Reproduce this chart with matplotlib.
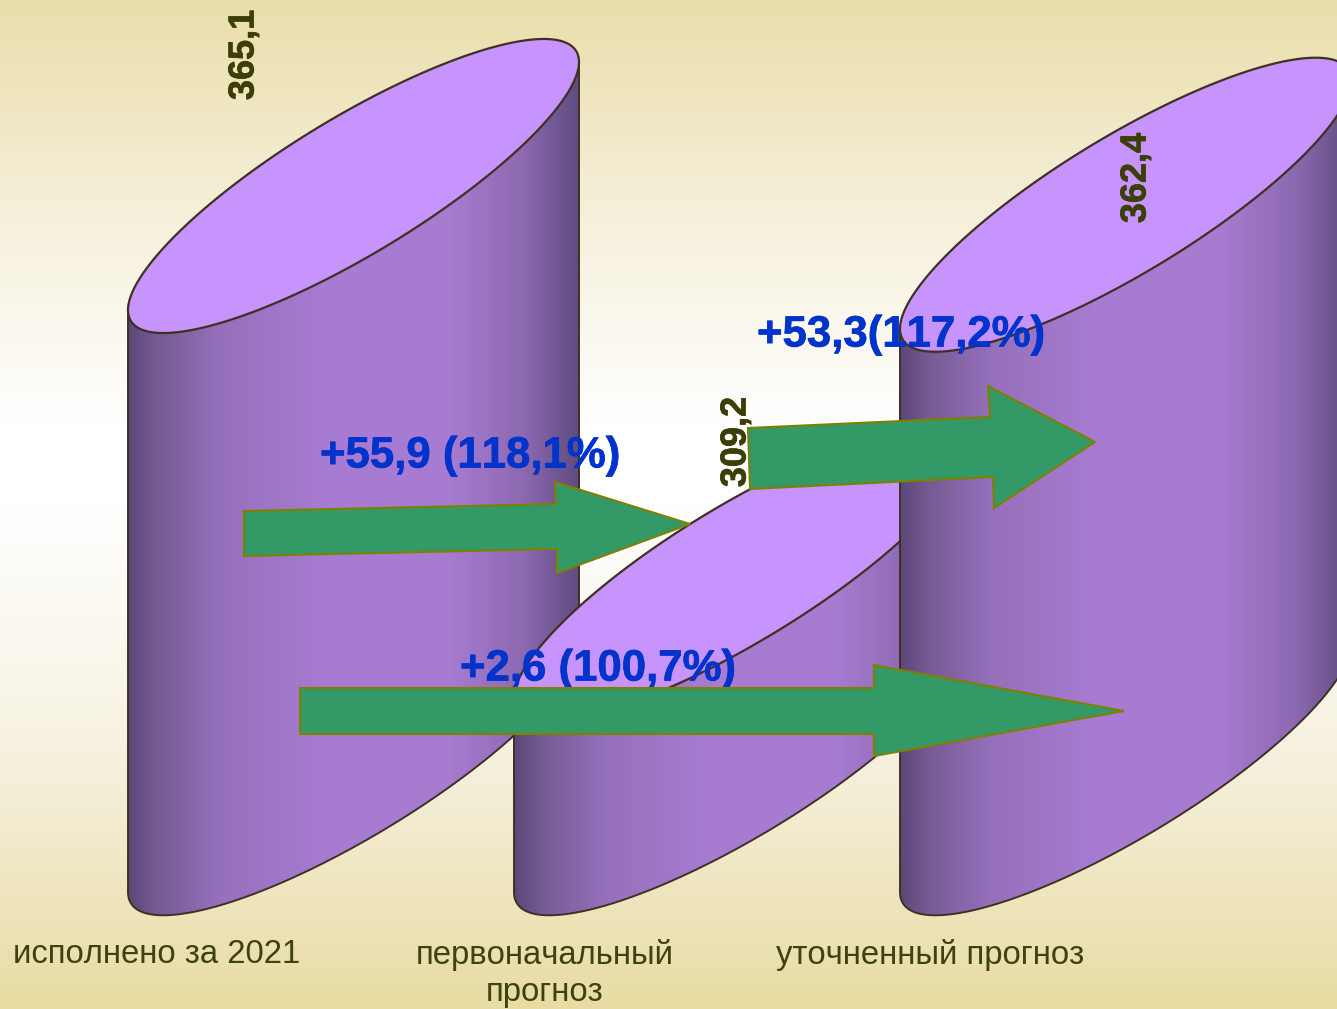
import numpy as np
import matplotlib
matplotlib.use('Agg')
import matplotlib.pyplot as plt
import matplotlib.patheffects as pe
from matplotlib.colors import LinearSegmentedColormap
from matplotlib.patches import Polygon, PathPatch
from matplotlib.path import Path

plt.rcParams['font.family'] = ['Liberation Sans', 'DejaVu Sans']
plt.rcParams['text.kerning_factor'] = 6

categories = ['исполнено за 2021', 'первоначальный\nпрогноз', 'уточненный прогноз']
values = [365.1, 309.2, 362.4]
base_value = 281.2
notes = ['+55,9 (118,1%)', '+53,3(117,2%)', '+2,6 (100,7%)']

W, H = 1337, 1009
PX = 6.94   # pixels per one unit of value
TOP_VALUE = 365.1 + 186 / PX

# cylinder shape in pixels
first_left = 128
step = 386
half_w = 225.5
tilt = 124
thick = 79


def yv(y_pix):
    # picture row -> value axis
    return TOP_VALUE - np.asarray(y_pix, dtype=float) / PX


fig = plt.figure(figsize=(W / 100, H / 100), dpi=100)
ax = fig.add_axes([0, 0, 1, 1])
ax.set_axis_off()

bg = LinearSegmentedColormap.from_list('bg', [(0, '#E9DEAB'), (0.2, '#F5EFD8'), (0.42, '#FFFFFF'),
                                              (0.5, '#FFFFFF'), (0.75, '#F6F1DF'), (1, '#E8DCA3')])
ax.imshow(np.linspace(0, 1, 500).reshape(-1, 1), cmap=bg, aspect='auto', vmin=0, vmax=1,
          extent=(0, W, yv(H), yv(0)), zorder=0)

side = LinearSegmentedColormap.from_list('side', [(0, '#5B4878'), (0.06, '#755A93'), (0.2, '#9570BA'),
                                                  (0.45, '#A87CD3'), (0.72, '#A67BD0'), (0.88, '#8C69B0'),
                                                  (1, '#604C80')])
t = np.linspace(0, 2 * np.pi, 400)
lower = np.linspace(np.pi, 0, 200)
grad = np.linspace(0, 1, 256).reshape(1, -1)
edge = '#3F3024'

for i, v in enumerate(values):
    left = first_left + i * step
    cx = left + half_w
    z = 2 + i

    # side wall: down the left, along lower half of bottom ellipse, up the right
    bx = cx + half_w * np.cos(lower)
    by = base_value + (tilt * np.cos(lower) - thick * np.sin(lower)) / PX
    sx = np.concatenate([[left], bx, [left + 2 * half_w]])
    sy = np.concatenate([[v - tilt / PX], by, [v + tilt / PX]])
    wall = Path(np.column_stack([sx, sy]))
    im = ax.imshow(grad, cmap=side, aspect='auto', extent=(left, left + 2 * half_w, base_value - 30, v + 30),
                   zorder=z)
    clip = PathPatch(wall, transform=ax.transData, facecolor='none', edgecolor='none')
    ax.add_patch(clip)
    im.set_clip_path(clip)
    ax.plot(sx, sy, color=edge, lw=1.4, zorder=z + 0.1)

    # top ellipse
    ex = cx + half_w * np.cos(t)
    ey = v + (tilt * np.cos(t) + thick * np.sin(t)) / PX
    ax.fill(ex, ey, facecolor='#C793FC', edgecolor=edge, lw=1.6, zorder=z + 0.2)

# value labels
label_x = [244, 736, 1136]
label_y = [55, 442, 178]
for v, lx, ly in zip(values, label_x, label_y):
    ax.text(lx, yv(ly), f'{v:.1f}'.replace('.', ','), rotation=90, ha='center', va='center',
            fontsize=26, fontweight='bold', color='#3B3F06', zorder=6,
            path_effects=[pe.withStroke(linewidth=0.5, foreground='#3B3F06')])

# category labels
cat_x = [157, 545, 930]
for c, cxp in zip(categories, cat_x):
    ax.text(cxp, yv(939), c, ha='center', va='top', fontsize=23.7, color='#3E4210',
            linespacing=1.27, zorder=6)

# blue notes
note_x = [320, 757, 460]
note_y = [456, 335, 669]
for n, nx, ny in zip(notes, note_x, note_y):
    ax.text(nx, yv(ny), n, ha='left', va='center', fontsize=31.5, fontweight='bold',
            color='#0033CC', zorder=6,
            path_effects=[pe.withStroke(linewidth=0.5, foreground='#0033CC')])

# green arrows
arrows = [
    [(244, 511), (556, 504), (555, 482), (690, 524), (557, 573), (557, 549), (244, 556)],
    [(748, 428), (990, 417), (988, 386), (1095, 442), (994, 508), (993, 477), (750, 489)],
    [(300, 688), (874, 688), (874, 665), (1124, 711), (874, 756), (874, 734), (300, 734)],
]
for a in arrows:
    pts = np.array(a, dtype=float)
    pts[:, 1] = yv(pts[:, 1])
    ax.add_patch(Polygon(pts, closed=True, facecolor='#339966', edgecolor='#808000', lw=1.5, zorder=7))

ax.set_xlim(0, W)
ax.set_ylim(yv(H), yv(0))

fig.savefig('out.png', dpi=100)
